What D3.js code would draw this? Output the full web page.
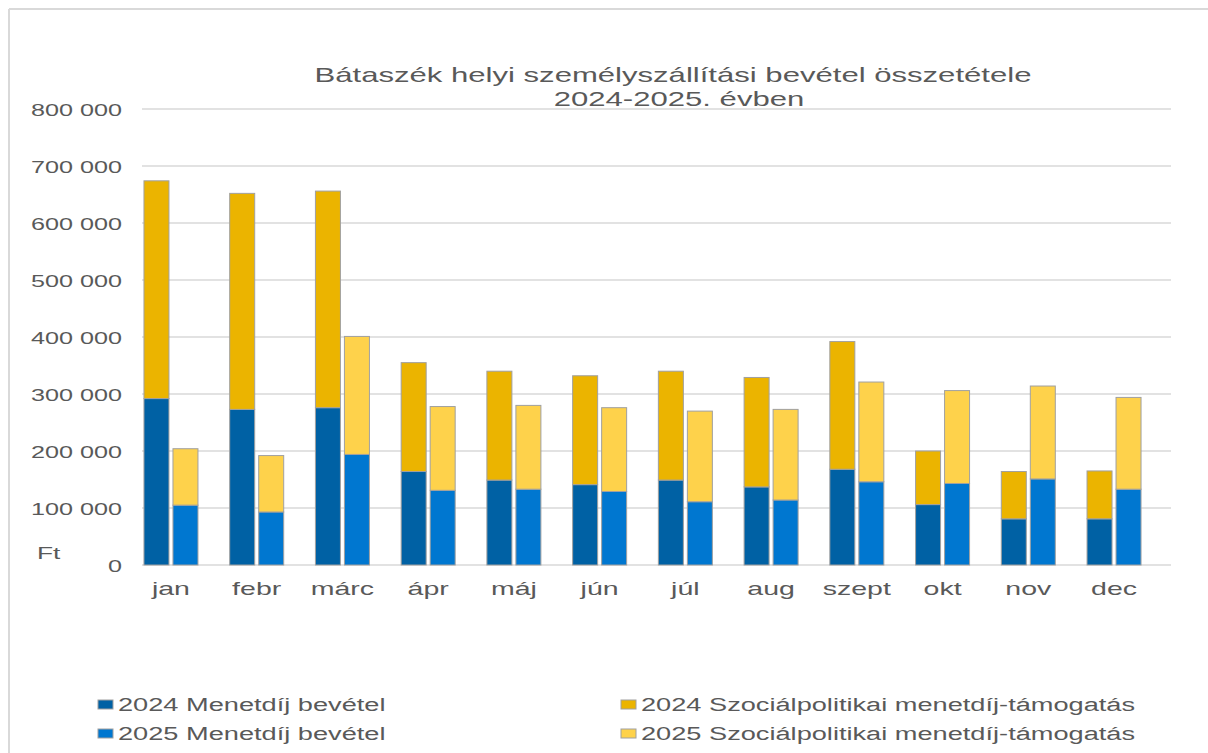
<!DOCTYPE html>
<html>
<head>
<meta charset="utf-8">
<script src="https://cdn.jsdelivr.net/npm/d3@7"></script>
<style>
  body { margin: 0; background: #fff; }
  svg { display: block; font-family: "Liberation Sans", Arial, sans-serif; }
</style>
</head>
<body>
<svg></svg>
<script>
// chart data (Ft)
const months = ['jan', 'febr', 'márc', 'ápr', 'máj', 'jún', 'júl', 'aug', 'szept', 'okt', 'nov', 'dec'];
const menetdij2024 = [292000, 273000, 276000, 164000, 149000, 141000, 149000, 137000, 168000, 106000, 81000, 81000];
const szoc2024     = [382000, 379000, 380000, 191000, 191000, 191000, 191000, 192000, 224000, 94000, 83000, 84000];
const menetdij2025 = [105000, 93000, 194000, 131000, 133000, 129000, 111000, 114000, 146000, 143000, 151000, 133000];
const szoc2025     = [99000, 99000, 207000, 147000, 147000, 147000, 159000, 159000, 175000, 163000, 163000, 161000];
const years = ['2024', '2025'];
const yTicks = [0, 100000, 200000, 300000, 400000, 500000, 600000, 700000, 800000];
const legendItems = [
  {label: '2024 Menetdíj bevétel', color: '#0061a4'},
  {label: '2024 Szociálpolitikai menetdíj-támogatás', color: '#ebb400'},
  {label: '2025 Menetdíj bevétel', color: '#0077d0'},
  {label: '2025 Szociálpolitikai menetdíj-támogatás', color: '#fed24b'}
];

const size = {w: 1208, h: 753};
const stretch = 1.48; // the original text is drawn horizontally widened
const textColor = '#595959';
const gridColor = '#d9d9d9';

const svg = d3.select('svg').attr('width', size.w).attr('height', size.h);

// widen a text node in place
function widen(sel, k = stretch) {
  sel.each(function() {
    const len = this.getComputedTextLength();
    d3.select(this).attr('textLength', len * k).attr('lengthAdjust', 'spacingAndGlyphs');
  });
}

// outer frame (left + top only)
svg.append('line').attr('x1', 9).attr('x2', size.w).attr('y1', 9).attr('y2', 9)
  .attr('stroke', gridColor).attr('stroke-width', 2);
svg.append('line').attr('x1', 9).attr('x2', 9).attr('y1', 9).attr('y2', size.h)
  .attr('stroke', gridColor).attr('stroke-width', 2);

// scales
const x = d3.scaleBand().domain(months).range([128.1, 1156.9]).padding(0);
const x1 = d3.scaleBand().domain(years)
  .range([x.bandwidth() / 2 - 27, x.bandwidth() / 2 + 27])
  .paddingInner(4 / 29);
const y = d3.scaleLinear().domain([0, 800000]).range([565, 109]);

const fmt = d3.formatLocale({decimal: ',', thousands: ' ', grouping: [3], currency: ['', ' Ft']}).format(',d');

// gridlines
const gridG = svg.append('g').classed('grid', true);
gridG.selectAll('line')
  .data(yTicks)
  .join('line')
  .attr('x1', 142).attr('x2', 1171)
  .attr('y1', d => y(d)).attr('y2', d => y(d))
  .attr('stroke', gridColor).attr('stroke-width', 1.6);

// y tick labels
const yLab = svg.append('g').selectAll('text')
  .data(yTicks)
  .join('text')
  .attr('x', 0).attr('y', 0)
  .attr('font-size', 17)
  .attr('fill', textColor)
  .attr('dominant-baseline', 'central')
  .text(d => fmt(d));
yLab.call(widen);
yLab.attr('text-anchor', 'end')
  .attr('x', 122)
  .attr('y', d => y(d) + 1);

// unit label
svg.append('text')
  .attr('x', 37).attr('y', 559)
  .attr('font-size', 17)
  .attr('fill', textColor)
  .text('Ft')
  .call(widen, 1.55);

// stacked bars
const series = [
  {year: '2024', low: menetdij2024, high: szoc2024, lowColor: '#0061a4', highColor: '#ebb400'},
  {year: '2025', low: menetdij2025, high: szoc2025, lowColor: '#0077d0', highColor: '#fed24b'}
];

const barsG = svg.append('g').classed('bars', true);
series.forEach(s => {
  const rows = months.map((m, i) => ({m, low: s.low[i], high: s.high[i]}));
  const g = barsG.append('g');
  g.selectAll('rect.low')
    .data(rows)
    .join('rect')
    .classed('low', true)
    .attr('x', d => x(d.m) + x1(s.year))
    .attr('width', x1.bandwidth())
    .attr('y', d => y(d.low))
    .attr('height', d => y(0) - y(d.low))
    .attr('fill', s.lowColor)
    .attr('stroke', '#a0a0a0').attr('stroke-width', 1);
  g.selectAll('rect.high')
    .data(rows)
    .join('rect')
    .classed('high', true)
    .attr('x', d => x(d.m) + x1(s.year))
    .attr('width', x1.bandwidth())
    .attr('y', d => y(d.low + d.high))
    .attr('height', d => y(d.low) - y(d.low + d.high))
    .attr('fill', s.highColor)
    .attr('stroke', '#a0a0a0').attr('stroke-width', 1);
});

// category labels
const xLab = svg.append('g').selectAll('text')
  .data(months)
  .join('text')
  .attr('x', 0).attr('y', 595)
  .attr('font-size', 19)
  .attr('fill', textColor)
  .text(d => d);
xLab.call(widen, 1.5);
xLab.attr('text-anchor', 'middle')
  .attr('x', d => x(d) + x.bandwidth() / 2);

// title
const title = svg.append('text')
  .attr('font-size', 21)
  .attr('fill', textColor)
  .attr('text-anchor', 'middle');
title.append('tspan').attr('x', 673).attr('y', 82).text('Bátaszék helyi személyszállítási bevétel összetétele');
title.append('tspan').attr('x', 679).attr('y', 106).text('2024-2025. évben');
title.selectAll('tspan').each(function() {
  const len = this.getComputedTextLength();
  d3.select(this).attr('textLength', len * stretch).attr('lengthAdjust', 'spacingAndGlyphs');
});

// legend: two columns, two rows
const legendG = svg.append('g').classed('legend', true);
const colX = [98, 621];
const rowY = [711, 740];
legendItems.forEach((item, i) => {
  const cx = colX[i % 2];
  const cy = rowY[Math.floor(i / 2)];
  legendG.append('rect')
    .attr('x', cx).attr('y', cy - 11)
    .attr('width', 15).attr('height', 9)
    .attr('fill', item.color)
    .attr('stroke', '#a0a0a0').attr('stroke-width', 1);
  legendG.append('text')
    .attr('x', cx + 20).attr('y', cy)
    .attr('font-size', 18)
    .attr('fill', textColor)
    .text(item.label)
    .call(widen, 1.51);
});
</script>
</body>
</html>
